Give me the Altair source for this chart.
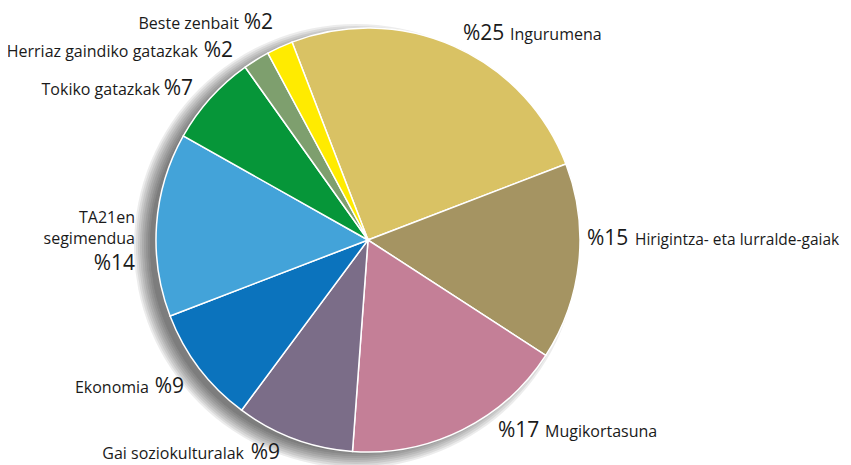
import math
import altair as alt
import pandas as pd

# ---- data -------------------------------------------------------------
categories = ["Ingurumena", "Hirigintza- eta lurralde-gaiak", "Mugikortasuna",
              "Gai soziokulturalak", "Ekonomia", "TA21en segimendua",
              "Tokiko gatazkak", "Herriaz gaindiko gatazkak", "Beste zenbait"]
values = [25, 15, 17, 9, 9, 14, 7, 2, 2]
colors = ["#D9C264", "#A59462", "#C47F97", "#7B6D88", "#0B73BD",
          "#43A3D9", "#069639", "#7E9F6E", "#FFEB00"]

# ---- layout (chart pixel coords) --------------------------------------
W, H = 835, 457
CX, CY, R = 360, 232, 212
START = 2 * math.pi - math.radians(21)

pie_df = pd.DataFrame({"category": categories, "value": values,
                       "order": list(range(len(categories)))})

# soft shadow: translucent discs offset down-left
shadow_df = pd.DataFrame({"r": [R - 6 + 2 * i for i in range(9)]})
shadow = alt.Chart(shadow_df).mark_arc(color="black", opacity=0.075,
                                       theta=0, theta2=2 * math.pi).encode(
    radius=alt.Radius("r:Q", scale=None, stack=None),
    x=alt.value(CX - 12), y=alt.value(CY + 6))

pie = alt.Chart(pie_df).mark_arc(radius=R, stroke="white", strokeWidth=1.5).encode(
    theta=alt.Theta("value:Q", stack=True,
                    scale=alt.Scale(range=[START, START + 2 * math.pi])),
    color=alt.Color("category:N", scale=alt.Scale(domain=categories, range=colors),
                    legend=None),
    order=alt.Order("order:Q"),
    x=alt.value(CX), y=alt.value(CY))

# label pieces: (text, x, y, align, font size)
pct = {c: "%" + str(v) for c, v in zip(categories, values)}
rows = [
    (pct["Ingurumena"], 455, 32, "left", 21),
    ("Ingurumena", 502, 32, "left", 16),
    (pct["Hirigintza- eta lurralde-gaiak"], 579, 237, "left", 21),
    ("Hirigintza- eta lurralde-gaiak", 627, 237, "left", 15.5),
    (pct["Mugikortasuna"], 490, 429, "left", 21),
    ("Mugikortasuna", 537, 429, "left", 16),
    ("Gai soziokulturalak", 236, 451, "right", 16),
    (pct["Gai soziokulturalak"], 272, 451, "right", 21),
    ("Ekonomia", 141, 385, "right", 16),
    (pct["Ekonomia"], 176, 385, "right", 21),
    ("TA21en", 127, 215, "right", 16),
    ("segimendua", 127, 236, "right", 16),
    (pct["TA21en segimendua"], 127, 262, "right", 21),
    ("Tokiko gatazkak", 152, 87, "right", 16),
    (pct["Tokiko gatazkak"], 185, 87, "right", 21),
    ("Herriaz gaindiko gatazkak", 190, 49, "right", 16),
    (pct["Herriaz gaindiko gatazkak"], 225, 49, "right", 21),
    ("Beste zenbait", 231, 21, "right", 16),
    (pct["Beste zenbait"], 265, 21, "right", 21),
]
lab = pd.DataFrame(rows, columns=["label", "px", "py", "align", "fs"])

FONT = "Open Sans"
layers = []
for align in ["left", "right"]:
    sub = lab[lab["align"] == align].reset_index(drop=True)
    layers.append(
        alt.Chart(sub).mark_text(align=align, baseline="alphabetic", font=FONT,
                                 color="#1a1a1a").encode(
            x=alt.X("px:Q", scale=None), y=alt.Y("py:Q", scale=None),
            size=alt.Size("fs:Q", scale=None, legend=None),
            text=alt.Text("label:N")))

chart = alt.layer(shadow, pie, *layers).properties(
    width=W, height=H, autosize=alt.AutoSizeParams(type="none"), padding=0
).configure_view(stroke=None)

chart.save("out.html", embed_options={"renderer": "svg", "actions": False})
